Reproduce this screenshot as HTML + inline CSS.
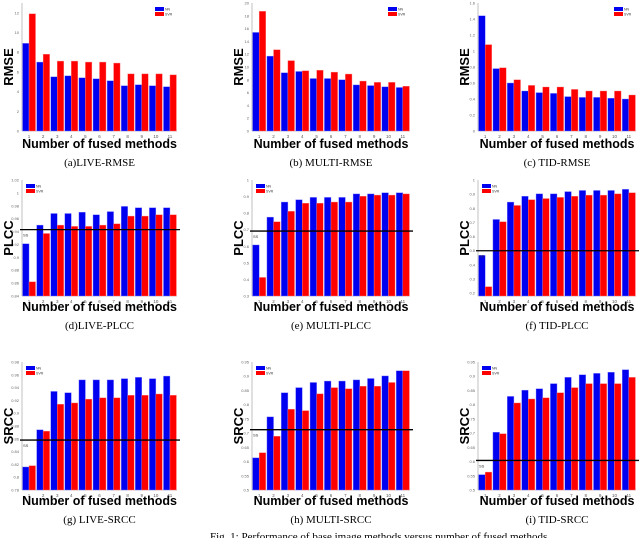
<!DOCTYPE html>
<html><head><meta charset="utf-8"><style>
body{margin:0;background:#fff;}
svg{display:block;}
</style></head><body>
<svg id="fig" width="640" height="538" viewBox="0 0 640 538" xmlns="http://www.w3.org/2000/svg"></svg>
<script>
const categories=["1","2","3","4","5","6","7","8","9","10","11"];
const liveRmseNN=[8.9,7.0,5.5,5.6,5.4,5.3,5.1,4.6,4.7,4.6,4.5];
const liveRmseSVR=[11.9,7.8,7.1,7.1,7.0,7.0,6.9,5.8,5.8,5.8,5.7];
const multiRmseNN=[15.4,11.7,9.1,9.3,8.2,8.2,8.0,7.2,7.1,6.9,6.8];
const multiRmseSVR=[18.7,12.7,11.0,9.4,9.5,9.2,8.9,7.8,7.6,7.6,7.0];
const tidRmseNN=[1.44,0.78,0.60,0.50,0.48,0.47,0.43,0.42,0.42,0.41,0.40];
const tidRmseSVR=[1.08,0.79,0.64,0.57,0.55,0.55,0.52,0.50,0.50,0.50,0.45];
const livePlccNN=[0.921,0.950,0.968,0.968,0.970,0.966,0.971,0.979,0.977,0.977,0.977];
const livePlccSVR=[0.862,0.937,0.950,0.948,0.948,0.950,0.952,0.964,0.964,0.966,0.966];
const multiPlccNN=[0.608,0.776,0.867,0.881,0.895,0.895,0.895,0.916,0.916,0.923,0.923];
const multiPlccSVR=[0.412,0.748,0.811,0.86,0.86,0.867,0.867,0.902,0.909,0.909,0.916];
const tidPlccNN=[0.467,0.721,0.844,0.885,0.902,0.902,0.918,0.926,0.926,0.926,0.934];
const tidPlccSVR=[0.246,0.705,0.820,0.861,0.869,0.877,0.885,0.893,0.893,0.902,0.910];
const liveSrccNN=[0.816,0.874,0.934,0.932,0.952,0.952,0.952,0.954,0.956,0.954,0.958];
const liveSrccSVR=[0.818,0.872,0.914,0.916,0.922,0.924,0.924,0.928,0.928,0.930,0.928];
const multiSrccNN=[0.613,0.757,0.842,0.86,0.878,0.883,0.883,0.887,0.892,0.901,0.919];
const multiSrccSVR=[0.631,0.689,0.784,0.779,0.838,0.86,0.856,0.865,0.865,0.878,0.919];
const tidSrccNN=[0.554,0.703,0.829,0.851,0.856,0.874,0.896,0.905,0.91,0.914,0.923];
const tidSrccSVR=[0.563,0.698,0.806,0.82,0.824,0.842,0.86,0.874,0.874,0.874,0.896];
const baselines=[null,null,null,0.943,0.692,0.500,0.858,0.712,0.604];
const yMins=[0,0,0,0.84,0.3,0.18,0.78,0.5,0.5];
const yMaxs=[13,20,1.6,1.02,1.0,1.0,0.98,0.95,0.95];
const yTickSteps=[2,2,0.2,0.02,0.1,0.1,0.02,0.05,0.05];
const yTitles=["RMSE","RMSE","RMSE","PLCC","PLCC","PLCC","SRCC","SRCC","SRCC"];
const captions=["(a)LIVE-RMSE","(b) MULTI-RMSE","(c) TID-RMSE","(d)LIVE-PLCC","(e) MULTI-PLCC","(f) TID-PLCC","(g) LIVE-SRCC","(h) MULTI-SRCC","(i) TID-SRCC"];
const nnSeries=[liveRmseNN,multiRmseNN,tidRmseNN,livePlccNN,multiPlccNN,tidPlccNN,liveSrccNN,multiSrccNN,tidSrccNN];
const svrSeries=[liveRmseSVR,multiRmseSVR,tidRmseSVR,livePlccSVR,multiPlccSVR,tidPlccSVR,liveSrccSVR,multiSrccSVR,tidSrccSVR];

const NS="http://www.w3.org/2000/svg";
const svg=document.getElementById('fig');
function mk(tag,attrs,parent,text){const e=document.createElementNS(NS,tag);for(const k in attrs)e.setAttribute(k,attrs[k]);if(text!==undefined)e.textContent=text;(parent||svg).appendChild(e);return e;}
const colX=[[22,177],[252,410],[478,636]];
const rowY=[[3,131],[180,296],[362,490]];
const labY=[148,311,505];
const capY=[166,329,523];

for(let p=0;p<9;p++){
  const r=Math.floor(p/3),c=p%3;
  const [x0,x1]=colX[c],[y0,y1]=rowY[r];
  const g=mk('g',{});
  
  
  const ymin=yMins[p],ymax=yMaxs[p];
  const yS=v=>y1-(v-ymin)/(ymax-ymin)*(y1-y0);
  const gw=(x1-x0)/categories.length;
  const xS=i=>x0+i*gw;
  const ax=mk('line',{x1:x0,y1:y0,x2:x0,y2:y1,stroke:'#999','stroke-width':0.6},g);
  
  const bx=mk('line',{x1:x0,y1:y1,x2:x1,y2:y1,stroke:'#999','stroke-width':0.6},g);
  
  const step=yTickSteps[p];
  for(let t=Math.ceil(ymin/step-1e-6);t*step<=ymax+1e-6;t++){
    const v=t*step;
    const tl=mk('text',{x:x0-3,y:yS(v)+1.5,'font-size':4,'text-anchor':'end',fill:'#666','font-family':'Liberation Sans, sans-serif'},g,(+v.toFixed(2)).toString());
    
  }
  categories.forEach((cat,i)=>{
    const bw=gw*0.46;
    const cx=xS(i)+gw/2;
    const b=mk('rect',{x:cx-bw,y:yS(nnSeries[p][i]),width:bw,height:y1-yS(nnSeries[p][i]),fill:'#0000f0',stroke:'#8080ff','stroke-width':0.4},g);
    
    const rb=mk('rect',{x:cx,y:yS(svrSeries[p][i]),width:bw,height:y1-yS(svrSeries[p][i]),fill:'#ff0000',stroke:'#ff8080','stroke-width':0.4},g);
    
    const tl=mk('text',{x:cx,y:y1+7,'font-size':4.5,'text-anchor':'middle',fill:'#555','font-family':'Liberation Sans, sans-serif'},g,cat);
    
  });
  if(baselines[p]!==null){
    const hy=yS(baselines[p]);
    const hl=mk('line',{x1:x0-2,y1:hy,x2:x1+3,y2:hy,stroke:'#000','stroke-width':1.3},g);
    
    const bl=mk('text',{x:x0+1,y:hy+7,'font-size':4,fill:'#333','font-family':'Liberation Sans, sans-serif'},g,'SS');
    
  }
  const lx=r===0?x1-22:x0+4, ly=y0+4;
  const lg=mk('g',{},g);
  
  mk('rect',{x:lx,y:ly,width:9,height:4,fill:'#0000f0'},lg);
  mk('rect',{x:lx,y:ly+5,width:9,height:4,fill:'#ff0000'},lg);
  mk('text',{x:lx+10,y:ly+3.5,'font-size':3.5,fill:'#333','font-family':'Liberation Sans, sans-serif'},lg,'NN');
  mk('text',{x:lx+10,y:ly+8.5,'font-size':3.5,fill:'#333','font-family':'Liberation Sans, sans-serif'},lg,'SVR');
  const yt=mk('text',{x:0,y:0,'font-size':13,'font-weight':'bold','text-anchor':'middle','font-family':'Liberation Sans, sans-serif',transform:`translate(${x0-9},${(y0+y1)/2}) rotate(-90)`},g,yTitles[p]);
  
  const xt=mk('text',{x:(x0+x1)/2,y:labY[r],'font-size':12.5,'font-weight':'bold','text-anchor':'middle','font-family':'Liberation Sans, sans-serif'},g,'Number of fused methods');
  
  const cp=mk('text',{x:(x0+x1)/2,y:capY[r],'font-size':11,'text-anchor':'middle','font-family':'Liberation Serif, serif'},g,captions[p]);
  
}
const fc=mk('text',{x:380,y:540,'font-size':11,'text-anchor':'middle','font-family':'Liberation Serif, serif'},svg,'Fig. 1: Performance of base image methods versus number of fused methods.');


</script>
</body></html>
